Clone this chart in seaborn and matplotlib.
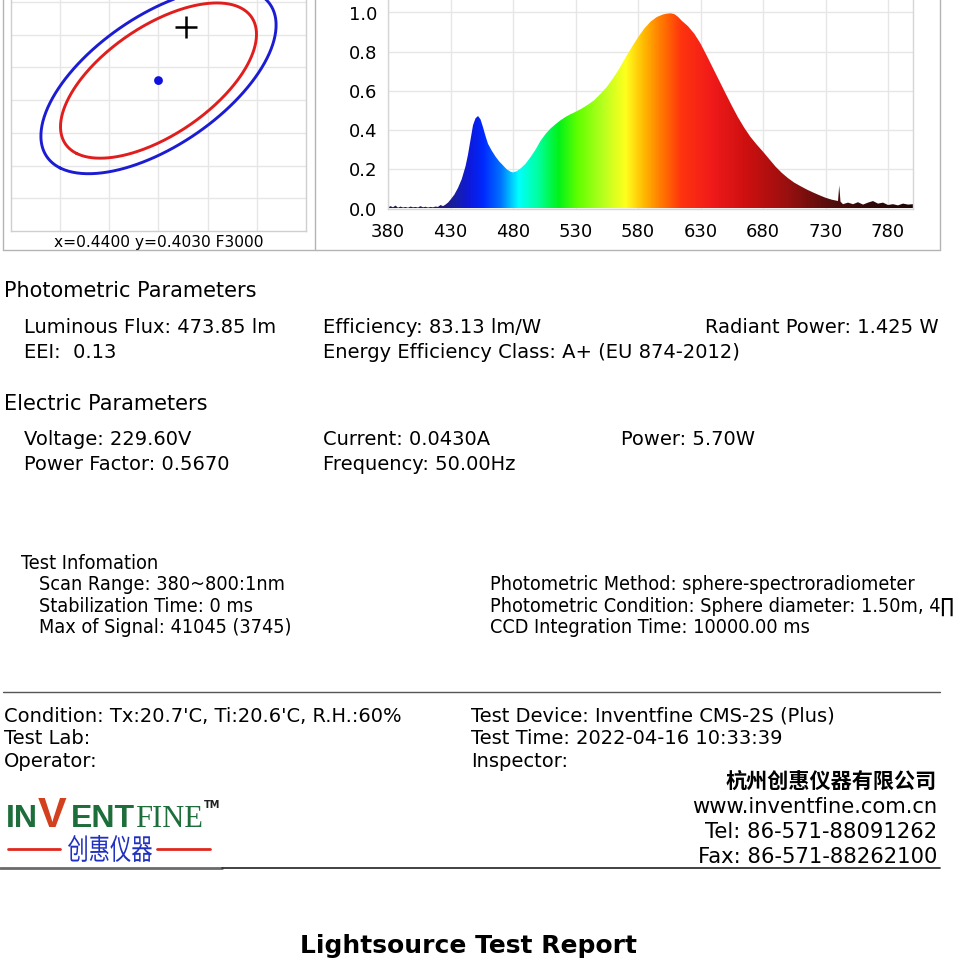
import numpy as np
import matplotlib
matplotlib.use("Agg")
import matplotlib.pyplot as plt
import seaborn as sns
from matplotlib.lines import Line2D
from matplotlib.colors import LinearSegmentedColormap, Normalize
from matplotlib.textpath import TextPath
from matplotlib.patches import PathPatch
from matplotlib.font_manager import FontProperties
from matplotlib.transforms import Affine2D, IdentityTransform

# ---------------- data ----------------
wavelength = [380, 382, 384, 386, 388, 390, 392, 394, 396, 398, 400, 402, 404, 406, 408, 410,
              412, 414, 416, 418, 420, 422, 424, 426, 428, 430, 433, 436, 439, 442, 444, 446,
              448, 450, 452, 454, 456, 458, 460, 463, 466, 469, 472, 475, 478, 480, 483, 486,
              490, 494, 498, 502, 506, 510, 514, 518, 522, 526, 530, 535, 540, 545, 550, 555,
              560, 565, 570, 575, 580, 585, 590, 595, 600, 603, 606, 609, 612, 615, 620, 625,
              630, 635, 640, 645, 650, 655, 660, 665, 670, 675, 680, 685, 690, 695, 700, 705,
              710, 715, 720, 725, 730, 735, 738, 740, 741, 742, 744, 748, 752, 756, 760, 764,
              768, 772, 776, 780, 784, 788, 792, 796, 800]
intensity = [0.005, 0.012, 0.006, 0.015, 0.004, 0.010, 0.005, 0.008, 0.004, 0.010, 0.006, 0.008,
             0.005, 0.012, 0.006, 0.009, 0.005, 0.008, 0.006, 0.010, 0.008, 0.018, 0.012, 0.020,
             0.030, 0.045, 0.070, 0.105, 0.150, 0.215, 0.275, 0.350, 0.425, 0.460, 0.472, 0.455,
             0.415, 0.370, 0.330, 0.295, 0.265, 0.240, 0.220, 0.200, 0.188, 0.184, 0.190, 0.204,
             0.228, 0.262, 0.300, 0.345, 0.380, 0.408, 0.430, 0.450, 0.467, 0.481, 0.493, 0.510,
             0.530, 0.553, 0.585, 0.620, 0.664, 0.713, 0.770, 0.823, 0.873, 0.918, 0.953, 0.977,
             0.990, 0.994, 0.996, 0.992, 0.978, 0.958, 0.930, 0.892, 0.842, 0.780, 0.716, 0.652,
             0.588, 0.525, 0.465, 0.412, 0.365, 0.326, 0.290, 0.252, 0.214, 0.182, 0.155, 0.132,
             0.114, 0.097, 0.082, 0.068, 0.055, 0.045, 0.041, 0.038, 0.118, 0.035, 0.022, 0.030,
             0.022, 0.032, 0.020, 0.030, 0.038, 0.025, 0.030, 0.018, 0.022, 0.016, 0.025, 0.020,
             0.022]
spec_xticks = [380, 430, 480, 530, 580, 630, 680, 730, 780]
spec_yticks = [0.0, 0.2, 0.4, 0.6, 0.8, 1.0]

# chromaticity: F3000 target, MacAdam metric, ellipse steps, measured point
target_xy = (0.4400, 0.4030)
g11, g12, g22 = 39.0e4, -19.5e4, 27.5e4
ellipse_steps = [6, 5]
measured_xy = (0.4428, 0.4112)

photometric = [("Luminous Flux: 473.85 lm", "Efficiency: 83.13 lm/W", "Radiant Power: 1.425 W"),
               ("EEI:  0.13", "Energy Efficiency Class: A+ (EU 874-2012)", "")]
electric = [("Voltage: 229.60V", "Current: 0.0430A", "Power: 5.70W"),
            ("Power Factor: 0.5670", "Frequency: 50.00Hz", "")]
test_info_left = ["Scan Range: 380~800:1nm", "Stabilization Time: 0 ms", "Max of Signal: 41045 (3745)"]
test_info_right = ["Photometric Method: sphere-spectroradiometer",
                   "Photometric Condition: Sphere diameter: 1.50m, 4\u220f",
                   "CCD Integration Time: 10000.00 ms"]
footer_left = ["Condition: Tx:20.7'C, Ti:20.6'C, R.H.:60%", "Test Lab:", "Operator:"]
footer_right = ["Test Device: Inventfine CMS-2S (Plus)", "Test Time: 2022-04-16 10:33:39", "Inspector:"]
company = ["杭州创惠仪器有限公司", "www.inventfine.com.cn", "Tel: 86-571-88091262", "Fax: 86-571-88262100"]
logo_cn = "创惠仪器"

# ---------------- style ----------------
sns.set_style("white")
plt.rcParams["font.family"] = ["DejaVu Sans", "Noto Sans CJK SC"]
plt.rcParams["text.color"] = "black"
CJK = ["Noto Sans CJK SC", "DejaVu Sans"]

W = H = 960.0
fig = plt.figure(figsize=(9.6, 9.6), dpi=100)
fig.patch.set_facecolor("white")

def fx(px):
    return px / W

def fy(py):
    return 1.0 - py / H

def hline(y, x0, x1, color="#444444", lw=1.0):
    fig.add_artist(Line2D([fx(x0), fx(x1)], [fy(y), fy(y)], transform=fig.transFigure,
                          color=color, lw=lw))

def vline(x, y0, y1, color="#aaaaaa", lw=1.0):
    fig.add_artist(Line2D([fx(x), fx(x)], [fy(y0), fy(y1)], transform=fig.transFigure,
                          color=color, lw=lw))

def txt(x, y, s, size=14, ha="left", **kw):
    kw.setdefault("color", "black")
    fig.text(fx(x), fy(y), s, fontsize=size, ha=ha, va="baseline", **kw)

# ---------------- panel boxes ----------------
box_c = "#b4b4b4"
vline(3, -2, 250, box_c)
vline(315, -2, 250, box_c)
vline(940, -2, 250, box_c)
hline(250, 3, 940, box_c)

# ---------------- chromaticity panel ----------------
ax1 = fig.add_axes([fx(11), fy(231), (306 - 11) / W, 242 / H])
ax1.set_xlim(0.425, 0.455)
ax1.set_ylim(0.380, 0.417)
ax1.set_xticks(np.arange(0.430, 0.4549, 0.005))
ax1.set_yticks(np.arange(0.385, 0.4159, 0.005))
ax1.tick_params(length=0, labelbottom=False, labelleft=False)
ax1.grid(True, color="#e6e6e6", lw=1)
for sp in ax1.spines.values():
    sp.set_color("#cfcfcf")
    sp.set_linewidth(1)

G = np.array([[g11, g12], [g12, g22]])
evals, evecs = np.linalg.eigh(G)
t = np.linspace(0, 2 * np.pi, 361)
for n, col in zip(ellipse_steps, ["#1c1cd2", "#e01e1e"]):
    unit = np.vstack([np.cos(t) / np.sqrt(evals[0]), np.sin(t) / np.sqrt(evals[1])])
    d = n * evecs @ unit
    sns.lineplot(x=target_xy[0] + d[0], y=target_xy[1] + d[1], sort=False, estimator=None,
                 color=col, lw=2.1, ax=ax1)
sns.scatterplot(x=[target_xy[0]], y=[target_xy[1]], color="#1010e0", s=40, edgecolor="none", ax=ax1, zorder=5)
sns.scatterplot(x=[measured_xy[0]], y=[measured_xy[1]], marker="+", color="black", s=260,
                linewidth=1.8, ax=ax1, zorder=5)
ax1.set_xlabel("")
ax1.set_ylabel("")
txt(158.5, 247, "x=0.4400 y=0.4030 F3000", size=11.2, ha="center")

# ---------------- spectrum panel ----------------
ax2 = fig.add_axes([fx(388), fy(208.5), 525 / W, 1.07 * 196 / H])
ax2.set_xlim(380, 800)
ax2.set_ylim(0, 1.07)
ax2.set_xticks(spec_xticks)
ax2.set_yticks(spec_yticks)
ax2.set_yticklabels([f"{v:.1f}" for v in spec_yticks])
ax2.tick_params(length=0, labelsize=13, colors="black")
ax2.tick_params(axis="x", pad=10.5)
ax2.tick_params(axis="y", pad=8)
ax2.grid(True, color="#e6e6e6", lw=1)
for sp in ax2.spines.values():
    sp.set_color("#d6d6d6")
    sp.set_linewidth(1)
ax2.set_axisbelow(True)

stops = [(380, (0.12, 0.10, 0.32)), (422, (0.14, 0.10, 0.45)), (432, (0.10, 0.12, 0.62)),
         (445, (0.05, 0.10, 0.86)), (456, (0.0, 0.16, 1.0)), (470, (0.0, 0.45, 1.0)),
         (484, (0.0, 1.0, 1.0)), (500, (0.0, 1.0, 0.62)), (516, (0.0, 0.95, 0.10)),
         (532, (0.38, 1.0, 0.0)), (552, (0.72, 1.0, 0.12)), (570, (1.0, 1.0, 0.12)),
         (586, (1.0, 0.70, 0.0)), (600, (1.0, 0.45, 0.0)), (615, (1.0, 0.20, 0.06)),
         (640, (0.94, 0.10, 0.10)), (668, (0.80, 0.06, 0.06)), (700, (0.60, 0.06, 0.06)),
         (730, (0.36, 0.05, 0.05)), (760, (0.20, 0.04, 0.04)), (800, (0.10, 0.02, 0.02))]
cmap = LinearSegmentedColormap.from_list(
    "spec", [((w - 380) / 420.0, c) for w, c in stops], N=512)

poly = ax2.fill_between(wavelength, 0, intensity, color="none", lw=0)
grad = np.linspace(380, 800, 1050)[None, :]
img = ax2.imshow(grad, extent=[380, 800, 0, 1.07], aspect="auto", cmap=cmap,
                 norm=Normalize(380, 800), origin="lower", zorder=2, interpolation="bilinear")
img.set_clip_path(poly.get_paths()[0], transform=ax2.transData)
ax2.set_xlim(380, 800)
ax2.set_ylim(0, 1.07)

# ---------------- parameters text ----------------
txt(4, 297, "Photometric Parameters", size=15)
for i, row in enumerate(photometric):
    y = 333 + 25 * i
    txt(24, y, row[0])
    txt(323, y, row[1])
    if row[2]:
        txt(939, y, row[2], ha="right")

txt(4, 410, "Electric Parameters", size=15)
for i, row in enumerate(electric):
    y = 445 + 25 * i
    txt(24, y, row[0])
    txt(323, y, row[1])
    if row[2]:
        txt(621, y, row[2])

NARROW = ["DejaVu Sans"]
txt(21, 569, "Test Infomation", size=14.3, family=NARROW, fontstretch="condensed")
for i, s in enumerate(test_info_left):
    txt(39, 590 + 21.5 * i, s, size=14.2, family=NARROW, fontstretch="condensed")
for i, s in enumerate(test_info_right):
    txt(490, 590 + 21.5 * i, s, size=14.2, family=NARROW, fontstretch="condensed")

hline(691.5, 3, 940, "#555555", 1.0)
for i, s in enumerate(footer_left):
    txt(4, 722 + 22.5 * i, s)
for i, s in enumerate(footer_right):
    txt(471, 722 + 22.5 * i, s)

# company block
txt(937, 788, company[0], size=15.2, ha="right", family=CJK, fontweight="bold")
for i, s in enumerate(company[1:]):
    txt(937, 813 + 25 * i, s, size=15.2, ha="right")

# logo
green = "#1d6e3a"
LS = ["Liberation Sans", "DejaVu Sans"]
txt(6, 827, "IN", size=23, color=green, fontweight="bold", family=LS)
txt(38, 827, "V", size=31, color="#d2401e", fontweight="bold", family=LS)
txt(71, 827, "ENT", size=23, color=green, fontweight="bold", family=LS)
txt(135, 827, "FINE", size=22, color=green, family=["Liberation Serif", "DejaVu Serif"])
txt(204, 808, "TM", size=7, color="#222222", fontweight="bold")
hline(849, 8, 60, "#e0281e", 2.0)
hline(849, 157, 210, "#e0281e", 2.0)

# tall, narrow Chinese logo text (pixel-space path, stretched vertically)
tp = TextPath((0, 0), logo_cn, size=21, prop=FontProperties(family="Noto Sans CJK SC"))
ext = tp.get_extents()
sx = 84.0 / ext.width
sy = 27.0 / ext.height
tr = Affine2D().translate(-ext.x0, -ext.y0).scale(sx, sy).translate(68, H - 862)
pp = PathPatch(tr.transform_path(tp), transform=IdentityTransform(), facecolor="#2030c0",
               edgecolor="none")
fig.add_artist(pp)

hline(868, 0, 222, "#6a6a6a", 2.0)
hline(868, 222, 940, "#333333", 1.3)

txt(469, 953, "Lightsource Test Report", size=18, ha="center", fontweight="bold")

fig.savefig("out.png", dpi=100, facecolor="white")
